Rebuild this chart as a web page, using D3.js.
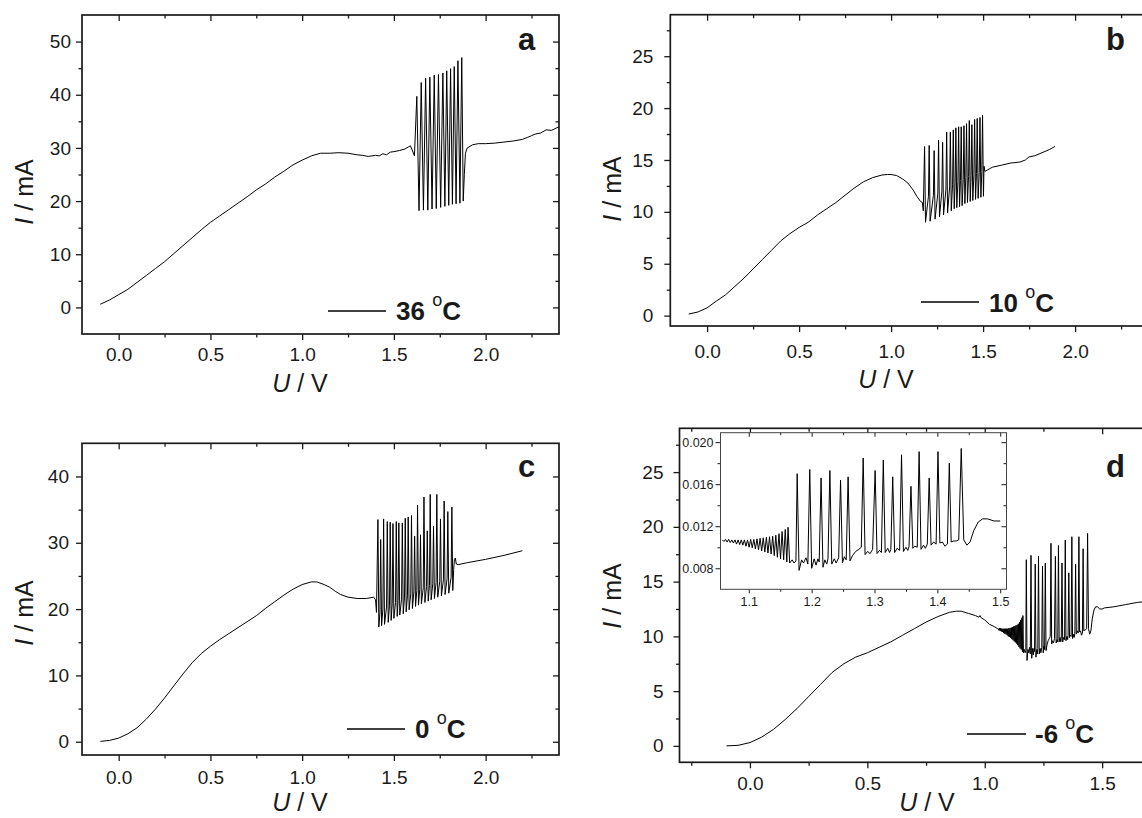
<!DOCTYPE html>
<html><head><meta charset="utf-8">
<script src="https://cdn.jsdelivr.net/npm/d3@7"></script>
<style>
body{margin:0;background:#fff}
svg{display:block}
text{font-family:"Liberation Sans",Arial,Helvetica,sans-serif;white-space:pre}
</style>
</head><body>
<svg id="chart" width="1142" height="818"></svg>
<script>
// ---------------- DATA ----------------
const panelLetters = ["a", "b", "c", "d"];
const legendTemps = ["36", "10", "0", "-6"];
const xTicksABC = [0.0, 0.5, 1.0, 1.5, 2.0];
const xMinorABC = [0.25, 0.75, 1.25, 1.75, 2.25];
const xTicksD = [0.0, 0.5, 1.0, 1.5];
const xMinorD = [-0.25, 0.25, 0.75, 1.25];
const yTicksA = [0, 10, 20, 30, 40, 50];
const yMinorA = [5, 15, 25, 35, 45];
const yTicksB = [0, 5, 10, 15, 20, 25];
const yMinorB = [2.5, 7.5, 12.5, 17.5, 22.5, 27.5];
const yTicksC = [0, 10, 20, 30, 40];
const yMinorC = [5, 15, 25, 35];
const yTicksD = [0, 5, 10, 15, 20, 25];
const yMinorD = [2.5, 7.5, 12.5, 17.5, 22.5, 27.5];
const insetXTicks = [1.1, 1.2, 1.3, 1.4, 1.5];
const insetXMinor = [1.15, 1.25, 1.35, 1.45];
const insetYTicks = [0.008, 0.012, 0.016, 0.020];
const insetYMinor = [0.010, 0.014, 0.018];

// U (V), I (mA)
const curveA = [
 [-0.10,0.6],[-0.05,1.4],[0.00,2.4],[0.05,3.4],[0.10,4.7],[0.15,6.0],[0.20,7.3],[0.25,8.6],
 [0.30,10.1],[0.35,11.6],[0.40,13.1],[0.45,14.6],[0.50,16.0],[0.55,17.2],[0.60,18.4],[0.65,19.6],
 [0.70,20.8],[0.75,22.1],[0.80,23.2],[0.85,24.5],[0.90,25.6],[0.95,26.8],[1.00,27.7],[1.05,28.5],
 [1.10,29.0],[1.15,29.0],[1.20,29.1],[1.25,29.0],[1.30,28.7],[1.33,28.6],[1.36,28.4],[1.40,28.6],
 [1.42,28.5],[1.44,28.9],[1.46,28.7],[1.48,29.2],[1.50,29.3],[1.53,29.5],[1.56,29.8],[1.58,30.2],
 [1.59,30.4],[1.60,29.6],[1.612,28.5],
 [1.625,39.7],[1.637,18.2],[1.649,42.3],[1.661,18.3],[1.673,43.1],[1.685,18.3],[1.696,43.3],[1.708,18.5],
 [1.720,43.7],[1.731,18.6],[1.743,43.8],[1.755,18.8],[1.767,44.1],[1.778,19.0],[1.788,44.5],[1.799,19.2],
 [1.809,44.9],[1.819,19.4],[1.829,45.3],[1.839,19.5],[1.849,46.4],[1.860,19.6],[1.870,47.0],[1.878,20.0],
 [1.884,25.0],[1.890,29.0],[1.90,30.0],[1.93,30.6],[1.96,30.8],[2.00,30.8],[2.05,30.9],[2.10,31.1],
 [2.15,31.3],[2.20,31.6],[2.23,32.0],[2.25,32.3],[2.27,32.6],[2.30,32.8],[2.33,33.4],[2.36,33.3],[2.40,34.0]
];

const curveB = [
 [-0.10,0.15],[-0.05,0.35],[0.00,0.75],[0.05,1.4],[0.10,2.0],[0.15,2.8],[0.20,3.6],[0.25,4.5],
 [0.30,5.4],[0.35,6.3],[0.40,7.2],[0.45,7.9],[0.50,8.5],[0.55,9.0],[0.60,9.7],[0.65,10.3],
 [0.70,10.9],[0.75,11.6],[0.80,12.3],[0.85,12.9],[0.90,13.3],[0.95,13.55],[0.98,13.6],[1.00,13.6],
 [1.03,13.5],[1.06,13.2],[1.09,12.8],[1.12,12.1],[1.14,11.5],[1.16,11.0],[1.17,10.9],[1.175,10.1],
 [1.182,16.3],[1.187,9.0],[1.203,11.5],
 [1.207,16.4],[1.212,9.1],[1.230,11.6],
 [1.234,15.9],[1.239,9.3],[1.254,11.8],
 [1.258,16.9],[1.263,9.5],[1.276,12.0],
 [1.280,16.7],[1.285,9.7],[1.298,12.2],
 [1.302,17.7],[1.307,9.9],[1.318,12.4],
 [1.322,17.7],[1.327,10.1],[1.334,12.6],
 [1.338,17.9],[1.343,10.3],[1.348,12.8],
 [1.352,18.1],[1.357,10.4],[1.363,12.9],
 [1.367,18.2],[1.372,10.5],[1.377,13.0],
 [1.381,18.2],[1.386,10.6],[1.392,13.1],
 [1.396,18.3],[1.401,10.8],[1.406,13.3],
 [1.410,18.5],[1.415,10.9],[1.421,13.4],
 [1.425,18.8],[1.430,11.0],[1.435,13.5],
 [1.439,18.4],[1.444,11.1],[1.450,13.6],
 [1.454,18.9],[1.459,11.2],[1.464,13.7],
 [1.468,19.0],[1.473,11.3],[1.479,13.8],
 [1.483,19.1],[1.488,11.4],[1.493,13.9],
 [1.497,19.3],[1.502,11.5],
 [1.505,14.4],[1.51,13.9],[1.55,14.3],[1.60,14.5],[1.65,14.7],[1.70,14.8],[1.73,15.0],[1.75,15.3],
 [1.78,15.4],[1.82,15.7],[1.86,16.0],[1.89,16.3]
];

const curveC = [
 [-0.10,0.05],[-0.05,0.2],[0.00,0.55],[0.05,1.2],[0.10,2.1],[0.15,3.4],[0.20,4.9],[0.25,6.6],
 [0.30,8.4],[0.35,10.2],[0.40,11.9],[0.45,13.3],[0.50,14.4],[0.55,15.4],[0.60,16.3],[0.65,17.2],
 [0.70,18.1],[0.75,19.0],[0.80,20.1],[0.85,21.1],[0.90,22.1],[0.95,23.0],[1.00,23.7],[1.05,24.1],
 [1.08,24.1],[1.12,23.7],[1.15,23.3],[1.18,22.7],[1.21,22.2],[1.25,21.8],[1.30,21.6],[1.35,21.6],
 [1.39,21.8],[1.40,21.4],[1.405,19.5],
 [1.413,33.5],[1.418,17.3],[1.424,19.5],
 [1.428,30.5],[1.433,17.5],[1.440,20.0],
 [1.444,33.6],[1.449,17.7],[1.460,20.3],
 [1.464,33.2],[1.469,18.0],[1.476,20.5],
 [1.480,33.1],[1.485,18.3],[1.491,20.8],
 [1.495,32.9],[1.500,18.6],[1.509,21.0],
 [1.513,33.2],[1.518,18.9],[1.523,21.3],
 [1.527,33.0],[1.532,19.1],[1.542,21.5],
 [1.546,33.0],[1.551,19.3],[1.558,21.8],
 [1.562,33.7],[1.567,19.6],[1.574,22.0],
 [1.578,33.9],[1.583,19.9],[1.592,22.3],
 [1.596,34.1],[1.601,20.1],[1.609,22.6],
 [1.613,31.0],[1.618,20.4],[1.625,22.8],
 [1.629,35.7],[1.634,20.6],[1.641,23.0],
 [1.645,31.2],[1.650,20.8],[1.660,23.2],
 [1.664,36.9],[1.669,21.0],[1.678,23.4],
 [1.682,31.8],[1.687,21.2],[1.694,23.6],
 [1.698,37.3],[1.703,21.4],[1.712,23.8],
 [1.716,32.5],[1.721,21.6],[1.730,24.0],
 [1.734,37.3],[1.739,21.8],[1.750,24.2],
 [1.754,33.6],[1.759,22.0],[1.770,24.4],
 [1.774,36.3],[1.779,22.2],[1.790,24.6],
 [1.794,34.7],[1.799,22.4],[1.812,24.8],
 [1.816,35.4],[1.821,22.8],
 [1.826,26.0],[1.830,27.5],[1.835,27.7],[1.840,26.8],[1.85,26.7],[1.90,27.0],[2.00,27.5],
 [2.10,28.1],[2.20,28.8]
];

const curveD = [
 [-0.10,0.0],[-0.05,0.05],[0.00,0.3],[0.05,0.8],[0.10,1.5],[0.15,2.4],[0.20,3.4],[0.25,4.5],
 [0.30,5.6],[0.35,6.7],[0.40,7.5],[0.45,8.1],[0.50,8.5],[0.55,9.0],[0.60,9.5],[0.65,10.1],
 [0.70,10.7],[0.75,11.3],[0.80,11.8],[0.85,12.2],[0.88,12.3],[0.90,12.3],[0.93,12.1],[0.96,11.9],
 [0.975,11.75],[0.98,11.9],[0.985,11.7],[1.00,11.5],[1.02,11.1],[1.04,10.9],[1.055,10.7],
 [1.0580,10.7],[1.0605,10.55],[1.0630,10.75],[1.0655,10.5],[1.0680,10.75],[1.0705,10.45],
 [1.0730,10.7],[1.0755,10.4],[1.0780,10.7],[1.0805,10.3],[1.0830,10.7],[1.0855,10.25],
 [1.0880,10.7],[1.0905,10.2],[1.0930,10.7],[1.0955,10.1],[1.0980,10.7],[1.1005,10.0],
 [1.1030,10.75],[1.1055,9.95],[1.1080,10.75],[1.1105,9.85],[1.1130,10.8],[1.1155,9.75],
 [1.1180,10.85],[1.1205,9.65],[1.1230,10.9],[1.1255,9.55],[1.1280,10.95],[1.1305,9.45],
 [1.1330,11.0],[1.1355,9.35],[1.1380,11.05],[1.1405,9.2],[1.1430,11.15],[1.1455,9.05],
 [1.1480,11.3],[1.1505,8.9],[1.1530,11.5],[1.1555,8.8],[1.1580,11.7],[1.1605,8.6],
 [1.1625,11.9],[1.1650,8.5],
 [1.169,8.8],[1.172,8.5],[1.175,8.7],
 [1.177,17.0],[1.180,7.8],[1.184,8.8],[1.187,8.5],[1.191,9.0],[1.194,8.4],
 [1.197,17.4],[1.200,8.0],[1.204,8.9],[1.207,8.3],[1.210,8.9],[1.212,8.6],
 [1.215,16.6],[1.218,8.1],[1.221,8.8],[1.224,8.4],[1.226,8.9],
 [1.229,17.3],[1.232,8.4],[1.236,8.9],[1.239,8.5],[1.243,9.0],
 [1.246,16.4],[1.249,8.5],[1.252,9.1],[1.255,8.8],
 [1.258,16.7],[1.261,8.7],[1.265,9.2],[1.270,9.6],[1.275,9.8],[1.279,10.0],
 [1.282,18.5],[1.285,9.3],[1.289,9.6],[1.293,9.4],[1.297,9.8],
 [1.301,17.3],[1.304,9.4],[1.308,9.7],[1.311,9.5],
 [1.314,18.3],[1.317,9.5],[1.321,9.9],[1.324,9.5],[1.326,9.8],
 [1.329,16.7],[1.332,9.5],[1.336,9.9],[1.340,9.7],
 [1.343,18.8],[1.346,9.6],[1.350,10.0],[1.353,9.7],[1.355,10.1],
 [1.358,15.8],[1.361,9.9],[1.364,10.1],[1.368,10.0],
 [1.371,19.1],[1.374,9.8],[1.378,10.2],[1.381,9.9],[1.384,10.3],
 [1.387,16.6],[1.390,10.2],[1.394,10.5],[1.398,10.3],
 [1.401,19.1],[1.404,10.4],[1.408,10.5],[1.412,10.1],[1.416,10.3],
 [1.419,18.0],[1.422,10.5],[1.426,10.6],[1.430,10.6],[1.434,10.7],
 [1.438,19.4],[1.442,10.7],[1.447,10.2],[1.452,10.5],[1.458,11.6],[1.465,12.4],[1.472,12.7],
 [1.480,12.7],[1.490,12.5],[1.500,12.5],[1.51,12.6],[1.55,12.7],[1.60,12.9],[1.65,13.1],[1.70,13.2]
];

// ---------------- LAYOUT ----------------
const panels = [
 {data: curveA, x0: 82, x1: 559, y0: 15, y1: 334, xDom: [-0.2, 2.4], yDom: [-5, 55],
  xT: xTicksABC, xM: xMinorABC, yT: yTicksA, yM: yMinorA, yPad: 5, xPad: 8,
  ylab: [33, 192], xlab: [300, 392], letter: [518, 50],
  leg: {lx1: 328, lx2: 386, ly: 311, tx: 396, ty: 320}},
 {data: curveB, x0: 670.3, x1: 1148.7, y0: 14.7, y1: 326, xDom: [-0.2, 2.4], yDom: [-1, 29],
  xT: xTicksABC, xM: xMinorABC, yT: yTicksB, yM: yMinorB, yPad: 11, xPad: 13,
  ylab: [621, 189], xlab: [886, 388], letter: [1106, 50],
  leg: {lx1: 921, lx2: 979, ly: 302, tx: 989, ty: 312}},
 {data: curveC, x0: 82, x1: 559, y0: 443.3, y1: 755, xDom: [-0.2, 2.4], yDom: [-2, 45],
  xT: xTicksABC, xM: xMinorABC, yT: yTicksC, yM: yMinorC, yPad: 7, xPad: 10,
  ylab: [33, 613], xlab: [300, 811], letter: [518, 477],
  leg: {lx1: 347, lx2: 405, ly: 729, tx: 415, ty: 738}},
 {data: curveD, x0: 679.5, x1: 1149.1, y0: 428.3, y1: 762.3, xDom: [-0.3, 1.7], yDom: [-1.5, 29],
  xT: xTicksD, xM: xMinorD, yT: yTicksD, yM: yMinorD, yPad: 10, xPad: 8,
  ylab: [621, 596], xlab: [927, 811], letter: [1106, 477],
  leg: {lx1: 967, lx2: 1026, ly: 734, tx: 1035, ty: 743}}
];

const FONT = '"Liberation Sans",Arial,Helvetica,sans-serif';
const INK = "#1a1a1a";
const svg = d3.select("#chart");
svg.append("rect").attr("width", 1142).attr("height", 818).attr("fill", "#fff");

function addAxis(g, axisFn, scale, vals, size, pad, fmt, transform, fs, sw) {
  const ax = axisFn(scale).tickValues(vals).tickSize(size).tickPadding(pad)
    .tickFormat(fmt ? fmt : () => "");
  const a = g.append("g").attr("transform", transform).call(ax)
    .attr("font-family", FONT).attr("font-size", fs);
  a.select(".domain").remove();
  a.selectAll("line").attr("stroke", INK).attr("stroke-width", sw);
  a.selectAll("text").attr("fill", INK);
  return a;
}

panels.forEach((p, i) => {
  const g = svg.append("g");
  const x = d3.scaleLinear().domain(p.xDom).range([p.x0, p.x1]);
  const y = d3.scaleLinear().domain(p.yDom).range([p.y1, p.y0]);
  const fx = d3.format(".1f"), fy = d3.format("d");

  addAxis(g, d3.axisLeft, y, p.yT, 6, p.yPad, fy, `translate(${p.x0},0)`, 19, 1.3);
  addAxis(g, d3.axisLeft, y, p.yM, 3.5, 0, null, `translate(${p.x0},0)`, 19, 1.3);
  addAxis(g, d3.axisLeft, y, p.yT, 6, 0, null, `translate(${p.x1},0)`, 19, 1.3);
  addAxis(g, d3.axisLeft, y, p.yM, 3.5, 0, null, `translate(${p.x1},0)`, 19, 1.3);
  addAxis(g, d3.axisBottom, x, p.xT, 6, p.xPad, fx, `translate(0,${p.y1})`, 19, 1.3);
  addAxis(g, d3.axisBottom, x, p.xM, 3.5, 0, null, `translate(0,${p.y1})`, 19, 1.3);
  addAxis(g, d3.axisBottom, x, p.xT, 6, 0, null, `translate(0,${p.y0})`, 19, 1.3);
  addAxis(g, d3.axisBottom, x, p.xM, 3.5, 0, null, `translate(0,${p.y0})`, 19, 1.3);

  g.append("rect").attr("x", p.x0).attr("y", p.y0).attr("width", p.x1 - p.x0).attr("height", p.y1 - p.y0)
    .attr("fill", "none").attr("stroke", INK).attr("stroke-width", 1.7);

  const cid = "clip" + i;
  svg.append("clipPath").attr("id", cid).append("rect")
    .attr("x", p.x0).attr("y", p.y0).attr("width", p.x1 - p.x0).attr("height", p.y1 - p.y0);
  g.append("path").datum(p.data).attr("clip-path", `url(#${cid})`)
    .attr("d", d3.line().x(d => x(d[0])).y(d => y(d[1])))
    .attr("fill", "none").attr("stroke", "#000").attr("stroke-width", 1).attr("stroke-linejoin", "round");

  const yt = g.append("text").attr("transform", `translate(${p.ylab[0]},${p.ylab[1]}) rotate(-90)`)
    .attr("text-anchor", "middle").attr("font-size", 25).attr("fill", INK);
  yt.append("tspan").attr("font-style", "italic").text("I");
  yt.append("tspan").text(" / mA");
  const xt = g.append("text").attr("x", p.xlab[0]).attr("y", p.xlab[1])
    .attr("text-anchor", "middle").attr("font-size", 25).attr("fill", INK);
  xt.append("tspan").attr("font-style", "italic").text("U");
  xt.append("tspan").text(" / V");

  g.append("text").attr("x", p.letter[0]).attr("y", p.letter[1]).attr("font-size", 31)
    .attr("font-weight", "bold").attr("fill", INK).text(panelLetters[i]);

  g.append("line").attr("x1", p.leg.lx1).attr("x2", p.leg.lx2).attr("y1", p.leg.ly).attr("y2", p.leg.ly)
    .attr("stroke", "#000").attr("stroke-width", 1.3);
  const lt = g.append("text").attr("x", p.leg.tx).attr("y", p.leg.ty).attr("font-size", 26)
    .attr("font-weight", "bold").attr("fill", INK);
  lt.append("tspan").text(legendTemps[i] + " ");
  lt.append("tspan").attr("font-weight", "normal").attr("font-size", 18).attr("dy", -14).text("o");
  lt.append("tspan").attr("dy", 14).text("C");

  if (i === 3) {
    const ix0 = 720.5, ix1 = 1006.5, iy0 = 432.7, iy1 = 589.3;
    const ix = d3.scaleLinear().domain([1.055, 1.51]).range([ix0, ix1]);
    const iy = d3.scaleLinear().domain([0.006, 0.0209]).range([iy1, iy0]);
    const ig = svg.append("g");
    ig.append("rect").attr("x", ix0).attr("y", iy0).attr("width", ix1 - ix0).attr("height", iy1 - iy0)
      .attr("fill", "#fff");
    addAxis(ig, d3.axisLeft, iy, insetYTicks, 5, 2, d3.format(".3f"), `translate(${ix0},0)`, 12.5, 1);
    addAxis(ig, d3.axisLeft, iy, insetYMinor, 3, 0, null, `translate(${ix0},0)`, 12.5, 1);
    addAxis(ig, d3.axisLeft, iy, insetYTicks, 5, 0, null, `translate(${ix1},0)`, 12.5, 1);
    addAxis(ig, d3.axisLeft, iy, insetYMinor, 3, 0, null, `translate(${ix1},0)`, 12.5, 1);
    addAxis(ig, d3.axisBottom, ix, insetXTicks, 4, 4, d3.format(".1f"), `translate(0,${iy1})`, 12.5, 1);
    addAxis(ig, d3.axisBottom, ix, insetXMinor, 2.5, 0, null, `translate(0,${iy1})`, 12.5, 1);
    addAxis(ig, d3.axisBottom, ix, insetXTicks, 4, 0, null, `translate(0,${iy0})`, 12.5, 1);
    addAxis(ig, d3.axisBottom, ix, insetXMinor, 2.5, 0, null, `translate(0,${iy0})`, 12.5, 1);
    ig.append("rect").attr("x", ix0).attr("y", iy0).attr("width", ix1 - ix0).attr("height", iy1 - iy0)
      .attr("fill", "none").attr("stroke", "#444").attr("stroke-width", 1);
    svg.append("clipPath").attr("id", "clipInset").append("rect")
      .attr("x", ix0).attr("y", iy0).attr("width", ix1 - ix0).attr("height", iy1 - iy0);
    const insetData = curveD.filter(d => d[0] >= 1.058 && d[0] <= 1.50);
    ig.append("path").datum(insetData).attr("clip-path", "url(#clipInset)")
      .attr("d", d3.line().x(d => ix(d[0])).y(d => iy(d[1] / 1000)))
      .attr("fill", "none").attr("stroke", "#000").attr("stroke-width", 1).attr("stroke-linejoin", "round");
  }
});
</script>
</body></html>
